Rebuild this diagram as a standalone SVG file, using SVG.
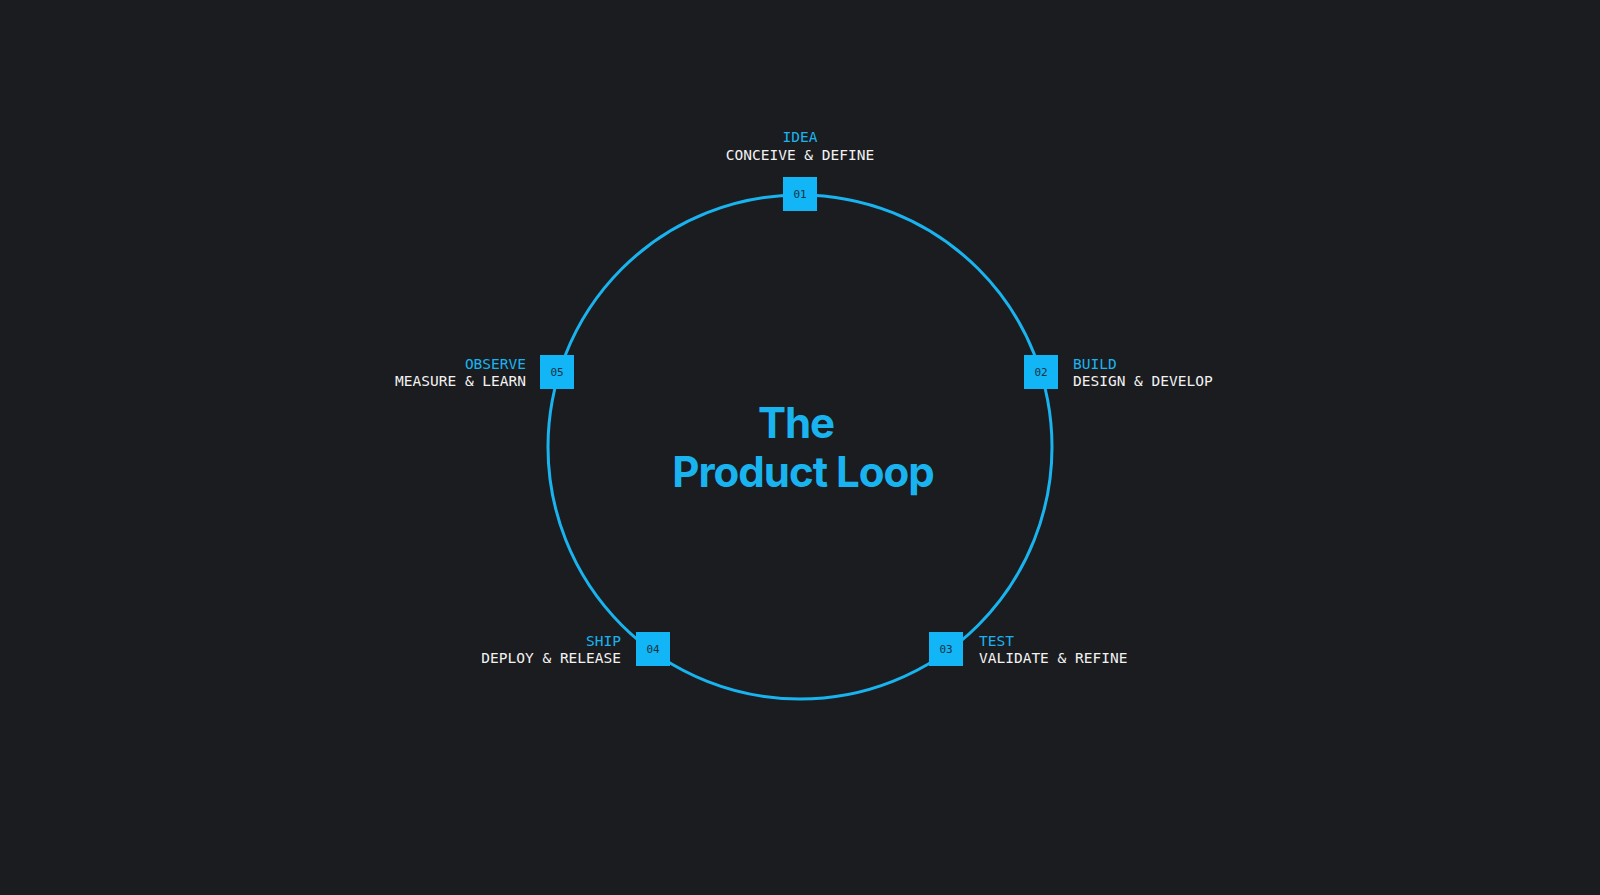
<svg xmlns="http://www.w3.org/2000/svg" width="1600" height="895" viewBox="0 0 1600 895">
<style>
.k{font-family:"DejaVu Sans Mono","Liberation Mono",monospace;font-size:14.5px}
.a{fill:#19b4f0}.w{fill:#f2f2f2}
.n rect{fill:#12b5f5}
.n .num{font-family:"DejaVu Sans Mono",monospace;font-size:11px;fill:#14323f;text-anchor:middle}
.t{font-family:Inter,"Noto Sans",sans-serif;font-weight:700;font-size:42px;fill:#19b4f0;text-anchor:middle;letter-spacing:-1px}
</style>
<rect width="1600" height="895" fill="#1b1c1f"/>
<g id="connectors"><circle cx="800" cy="447" r="252" fill="none" stroke="#19b4f0" stroke-width="3"/></g>
<g id="title"><text class="t" x="796" y="438">The</text><text class="t" x="803" y="487">Product Loop</text></g>
<g id="n1" class="n"><rect x="783" y="177" width="34" height="34"/><text class="num" x="800" y="198">01</text>
<text class="k a" x="800" y="142" text-anchor="middle">IDEA</text><text class="k w" x="800" y="160" text-anchor="middle">CONCEIVE &amp; DEFINE</text></g>
<g id="n2" class="n"><rect x="1024" y="355" width="34" height="34"/><text class="num" x="1041" y="376">02</text>
<text class="k a" x="1073" y="369">BUILD</text><text class="k w" x="1073" y="386">DESIGN &amp; DEVELOP</text></g>
<g id="n3" class="n"><rect x="929" y="632" width="34" height="34"/><text class="num" x="946" y="653">03</text>
<text class="k a" x="979" y="646">TEST</text><text class="k w" x="979" y="663">VALIDATE &amp; REFINE</text></g>
<g id="n4" class="n"><rect x="636" y="632" width="34" height="34"/><text class="num" x="653" y="653">04</text>
<text class="k a" x="621" y="646" text-anchor="end">SHIP</text><text class="k w" x="621" y="663" text-anchor="end">DEPLOY &amp; RELEASE</text></g>
<g id="n5" class="n"><rect x="540" y="355" width="34" height="34"/><text class="num" x="557" y="376">05</text>
<text class="k a" x="526" y="369" text-anchor="end">OBSERVE</text><text class="k w" x="526" y="386" text-anchor="end">MEASURE &amp; LEARN</text></g>
</svg>
